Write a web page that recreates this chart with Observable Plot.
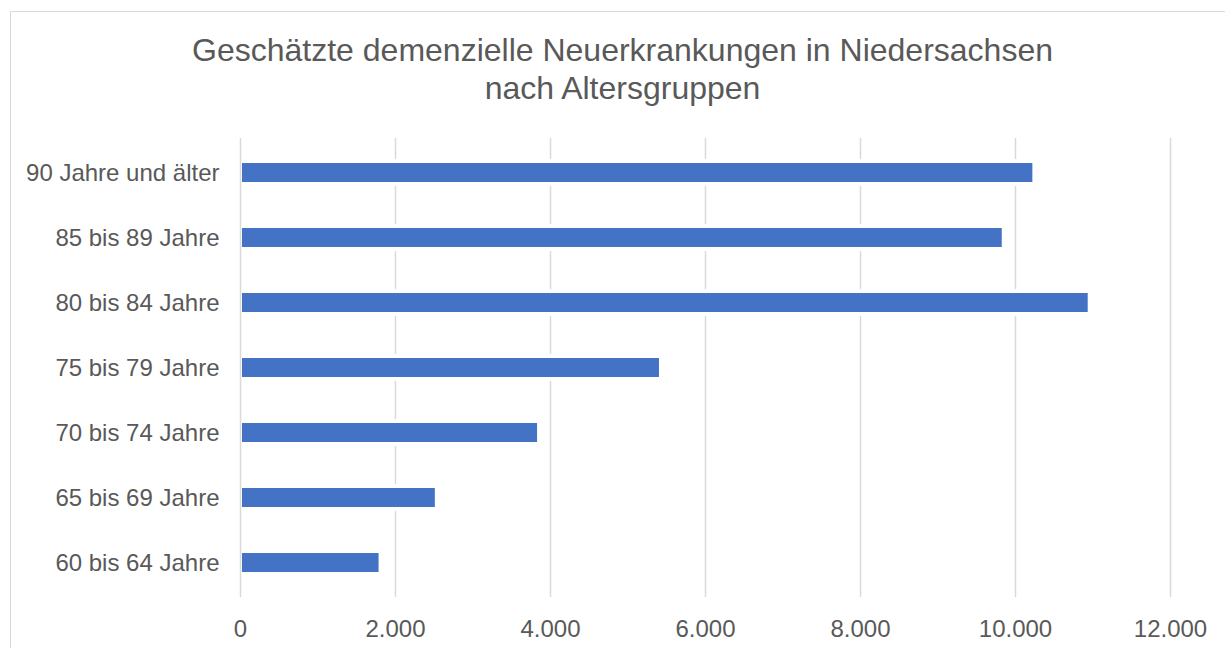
<!DOCTYPE html>
<html>
<head>
<meta charset="utf-8">
<script src="https://cdn.jsdelivr.net/npm/d3@7"></script>
<script src="https://cdn.jsdelivr.net/npm/@observablehq/plot@0.6"></script>
<style>
  html, body { margin: 0; padding: 0; background: #fff; overflow: hidden; width: 1225px; height: 648px; }
  #frame { position: absolute; left: 10px; top: 11px; width: 1400px; height: 800px; border: 1.5px solid #d9d9d9; box-sizing: border-box; }
  #title { position: absolute; left: 10px; top: 31px; width: 1225px; text-align: center; font-family: "Liberation Sans", Arial, sans-serif; font-size: 32px; line-height: 38px; color: #595959; }
  #chart { position: absolute; left: 0; top: 130px; }
</style>
</head>
<body>
<div id="frame"></div>
<div id="title">Geschätzte demenzielle Neuerkrankungen in Niedersachsen<br>nach Altersgruppen</div>
<div id="chart"></div>
<script>
const categories = ["90 Jahre und älter", "85 bis 89 Jahre", "80 bis 84 Jahre", "75 bis 79 Jahre", "70 bis 74 Jahre", "65 bis 69 Jahre", "60 bis 64 Jahre"];
const values = [10224, 9829, 10938, 5406, 3833, 2514, 1788];
const xTicks = [0, 2000, 4000, 6000, 8000, 10000, 12000];

const data = categories.map((c, i) => ({category: c, value: values[i]}));
const de = d3.formatLocale({decimal: ",", thousands: ".", grouping: [3], currency: ["", " €"]});
const fmt = de.format(",");

const plot = Plot.plot({
  width: 1225,
  height: 518,
  marginTop: 8,
  marginBottom: 51,
  marginLeft: 240,
  marginRight: 55,
  style: {fontFamily: "'Liberation Sans', Arial, sans-serif", fontSize: "24px", color: "#595959", background: "transparent"},
  x: {domain: [0, 12000], ticks: xTicks, tickFormat: fmt, tickSize: 0, tickPadding: 22, label: null},
  y: {domain: categories, paddingInner: 0.71, paddingOuter: 0.355, tickSize: 0, tickPadding: 21, label: null},
  marks: [
    Plot.ruleX(xTicks.filter(d => d > 0), {stroke: "#d9d9d9", strokeWidth: 1.5}),
    Plot.barX(data, {x: "value", y: "category", fill: "#ffffff", insetTop: -4, insetBottom: -4, insetLeft: 2}),
    Plot.ruleX([0], {stroke: "#d9d9d9", strokeWidth: 1.5}),
    Plot.barX(data, {x: "value", y: "category", fill: "#4472C4", insetLeft: 2}),
    Plot.axisX({ticks: xTicks, tickFormat: fmt, tickSize: 0, tickPadding: 22, fill: "#595959", label: null}),
    Plot.axisY({tickSize: 0, tickPadding: 21, fill: "#595959", label: null})
  ]
});
document.getElementById("chart").appendChild(plot);
</script>
</body>
</html>
